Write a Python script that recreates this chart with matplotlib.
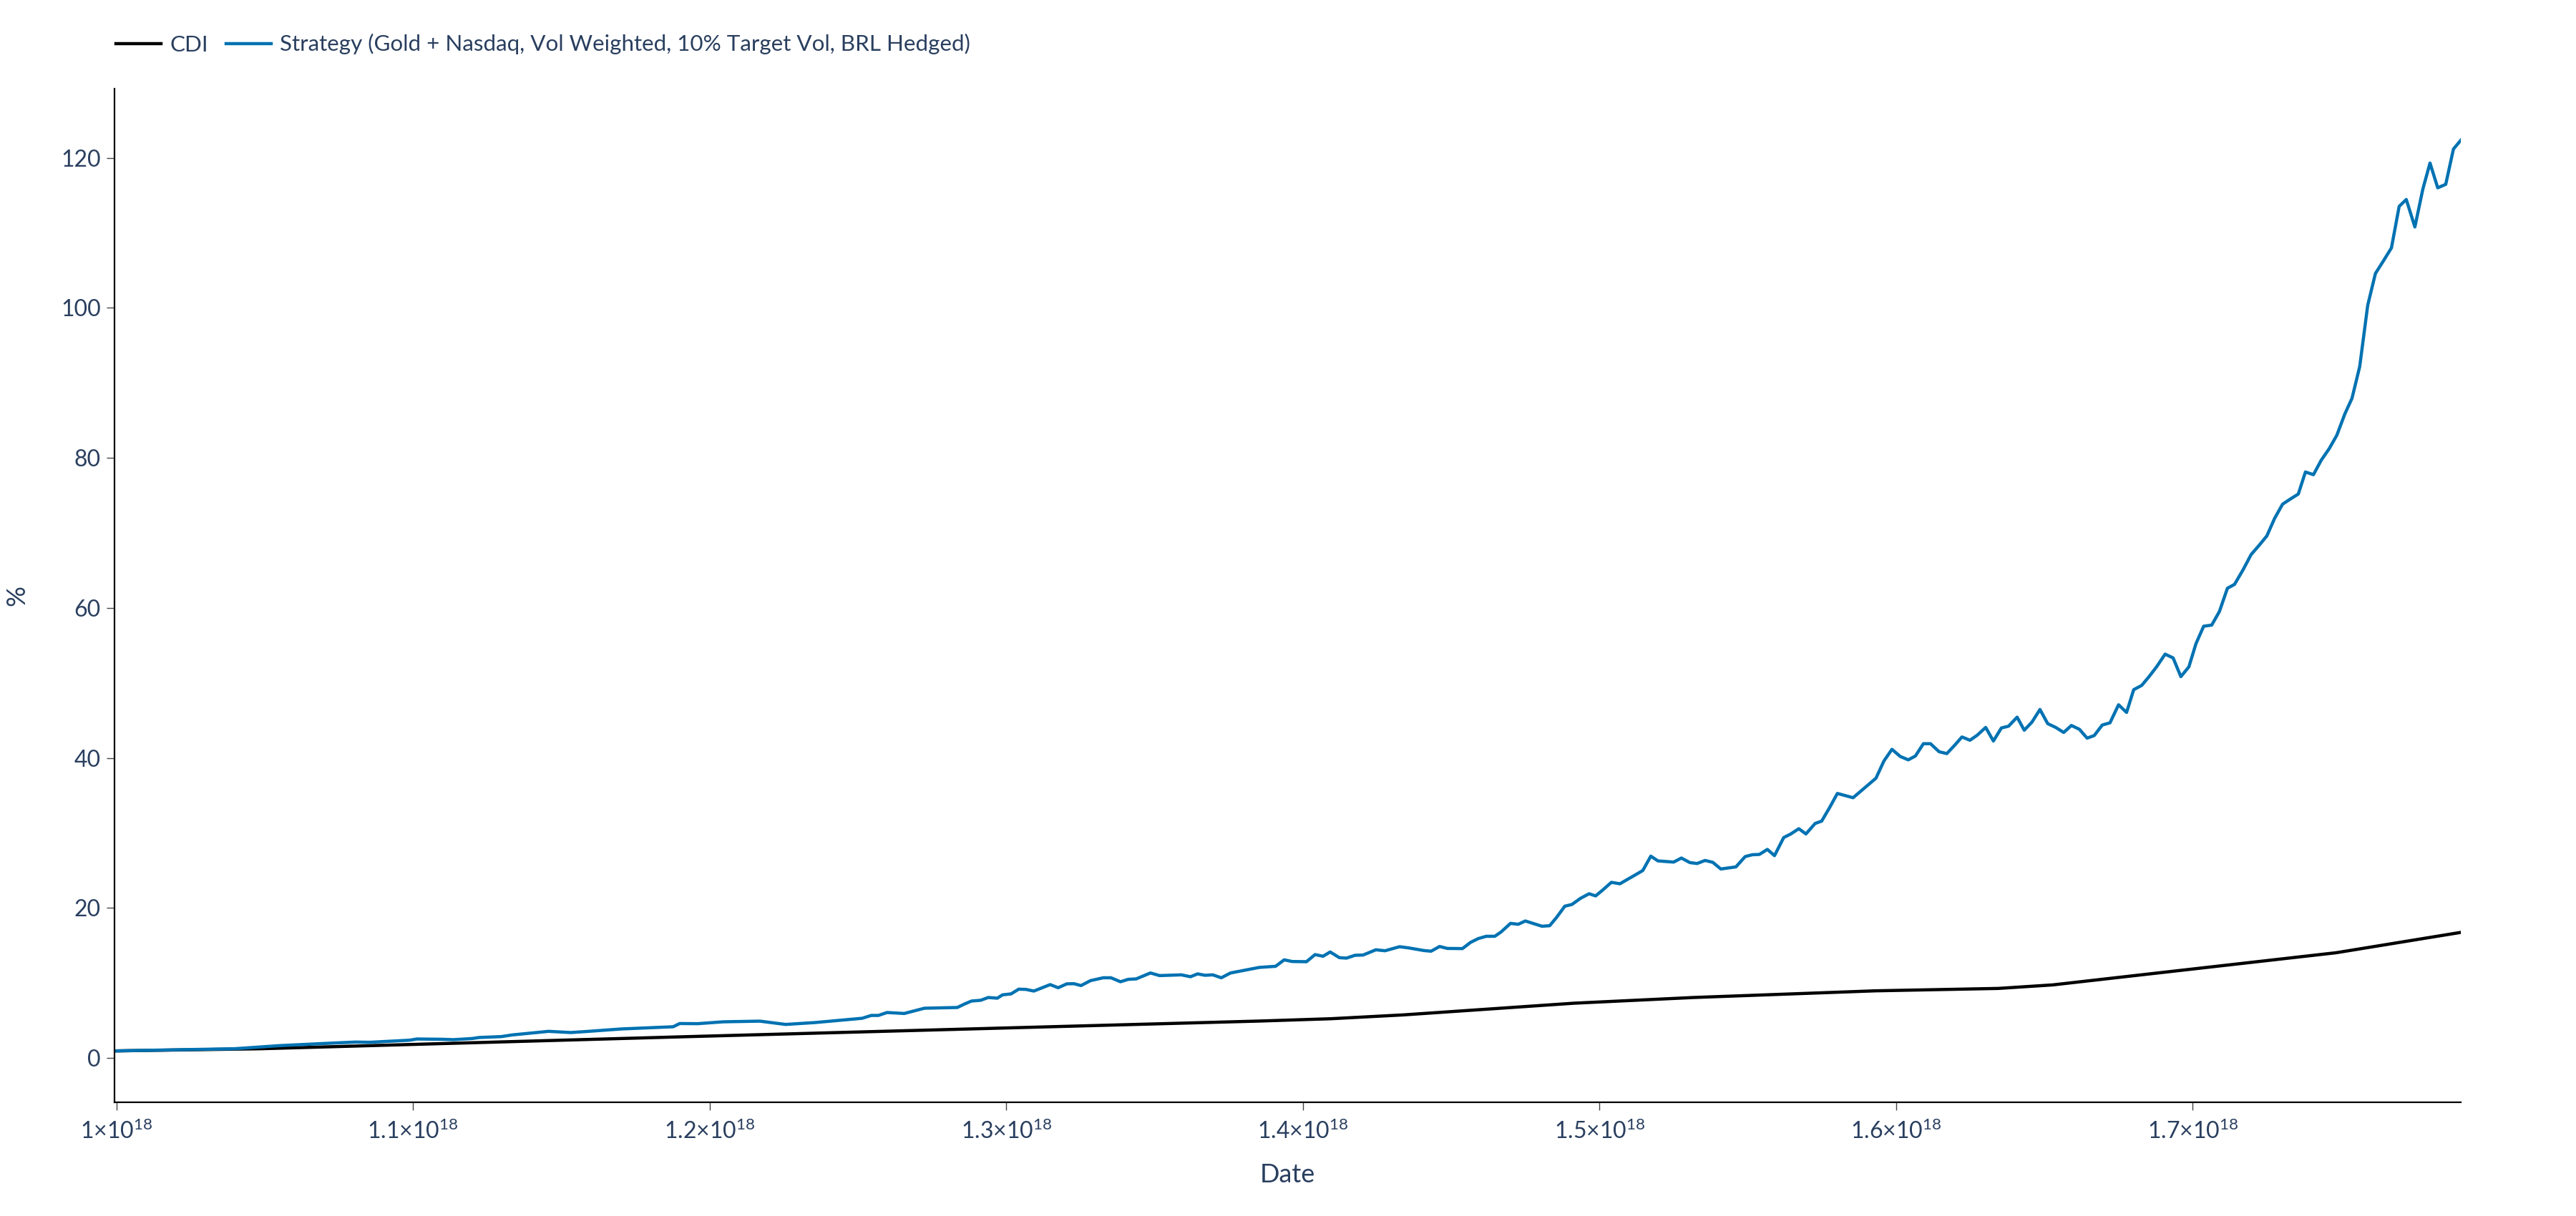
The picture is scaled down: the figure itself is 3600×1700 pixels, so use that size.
import numpy as np
import matplotlib
matplotlib.use("Agg")
import matplotlib.pyplot as plt
from matplotlib.ticker import MultipleLocator, FuncFormatter

# x values are dates as epoch nanoseconds, written here in units of 1e18
cdi_dates = [0.9993, 1.0485, 1.1923, 1.3853, 1.4094, 1.4338, 1.4914, 1.5317,
             1.5930, 1.6345, 1.6528, 1.7484, 1.7904]
cdi_values = [0.95, 1.24, 2.85, 4.93, 5.24, 5.75, 7.31, 8.07,
              8.96, 9.28, 9.75, 14.04, 16.75]

strategy_dates = [
    0.9993, 1.0398, 1.0548, 1.0731, 1.0806, 1.0854, 1.0989, 1.1013, 1.1100, 1.1136,
    1.1199, 1.1223, 1.1298, 1.1334, 1.1457, 1.1532, 1.1592, 1.1703, 1.1877, 1.1899,
    1.1959, 1.2046, 1.2169, 1.2256, 1.2355, 1.2514, 1.2545, 1.2569, 1.2598, 1.2656,
    1.2724, 1.2835, 1.2859, 1.2883, 1.2914, 1.2939, 1.2970, 1.2987, 1.3016, 1.3042,
    1.3066, 1.3093, 1.3148, 1.3175, 1.3204, 1.3228, 1.3252, 1.3284, 1.3327, 1.3353,
    1.3385, 1.3411, 1.3438, 1.3486, 1.3517, 1.3590, 1.3621, 1.3645, 1.3670, 1.3696,
    1.3725, 1.3756, 1.3853, 1.3908, 1.3937, 1.3964, 1.4012, 1.4041, 1.4068, 1.4092,
    1.4123, 1.4147, 1.4176, 1.4203, 1.4246, 1.4277, 1.4326, 1.4357, 1.4408, 1.4432,
    1.4461, 1.4487, 1.4538, 1.4565, 1.4591, 1.4618, 1.4647, 1.4668, 1.4700, 1.4726,
    1.4750, 1.4806, 1.4832, 1.4856, 1.4883, 1.4907, 1.4936, 1.4965, 1.4987, 1.5013,
    1.5040, 1.5069, 1.5095, 1.5119, 1.5146, 1.5173, 1.5197, 1.5250, 1.5276, 1.5305,
    1.5329, 1.5356, 1.5382, 1.5409, 1.5460, 1.5491, 1.5515, 1.5539, 1.5566, 1.5590,
    1.5621, 1.5645, 1.5672, 1.5696, 1.5727, 1.5749, 1.5776, 1.5802, 1.5855, 1.5932,
    1.5959, 1.5986, 1.6014, 1.6041, 1.6065, 1.6092, 1.6116, 1.6145, 1.6171, 1.6198,
    1.6222, 1.6249, 1.6273, 1.6302, 1.6328, 1.6355, 1.6379, 1.6408, 1.6432, 1.6458,
    1.6485, 1.6511, 1.6538, 1.6565, 1.6591, 1.6618, 1.6644, 1.6668, 1.6695, 1.6721,
    1.6750, 1.6777, 1.6801, 1.6828, 1.6852, 1.6878, 1.6907, 1.6934, 1.6960, 1.6987,
    1.7011, 1.7037, 1.7064, 1.7090, 1.7117, 1.7141, 1.7170, 1.7197, 1.7223, 1.7250,
    1.7276, 1.7303, 1.7329, 1.7356, 1.7380, 1.7407, 1.7433, 1.7460, 1.7486, 1.7513,
    1.7537, 1.7563, 1.7590, 1.7616, 1.7645, 1.7670, 1.7696, 1.7720, 1.7749, 1.7776,
    1.7800, 1.7826, 1.7853, 1.7879, 1.7904,
]
strategy_values = [
    0.95, 1.24, 1.65, 2.00, 2.13, 2.10, 2.38, 2.54, 2.50, 2.45,
    2.60, 2.74, 2.86, 3.08, 3.56, 3.40, 3.56, 3.88, 4.17, 4.60,
    4.58, 4.83, 4.92, 4.48, 4.73, 5.30, 5.68, 5.68, 6.07, 5.94,
    6.64, 6.74, 7.20, 7.60, 7.70, 8.07, 7.98, 8.42, 8.55, 9.18,
    9.15, 8.93, 9.79, 9.37, 9.89, 9.91, 9.66, 10.32, 10.70, 10.70,
    10.17, 10.49, 10.55, 11.34, 10.99, 11.09, 10.84, 11.22, 11.03, 11.09,
    10.70, 11.34, 12.08, 12.23, 13.09, 12.87, 12.84, 13.79, 13.57, 14.14,
    13.38, 13.32, 13.70, 13.73, 14.43, 14.30, 14.84, 14.68, 14.33, 14.24,
    14.87, 14.61, 14.59, 15.41, 15.92, 16.23, 16.23, 16.80, 17.95, 17.83,
    18.27, 17.57, 17.64, 18.78, 20.24, 20.47, 21.29, 21.90, 21.61, 22.47,
    23.42, 23.23, 23.83, 24.37, 25.00, 26.91, 26.28, 26.12, 26.66, 26.05,
    25.93, 26.34, 26.09, 25.20, 25.48, 26.85, 27.10, 27.14, 27.81, 26.98,
    29.39, 29.87, 30.57, 29.87, 31.27, 31.58, 33.40, 35.27, 34.70, 37.30,
    39.60, 41.15, 40.20, 39.75, 40.26, 41.90, 41.90, 40.83, 40.58, 41.72,
    42.80, 42.36, 43.02, 44.07, 42.26, 44.00, 44.23, 45.44, 43.70, 44.78,
    46.46, 44.58, 44.07, 43.40, 44.33, 43.82, 42.64, 42.99, 44.39, 44.68,
    47.09, 46.07, 49.10, 49.67, 50.80, 52.14, 53.84, 53.33, 50.84, 52.14,
    55.24, 57.56, 57.71, 59.52, 62.62, 63.14, 65.10, 67.12, 68.30, 69.60,
    71.93, 73.83, 74.51, 75.18, 78.12, 77.76, 79.67, 81.22, 83.03, 85.87,
    87.94, 92.17, 100.34, 104.58, 106.39, 107.99, 113.52, 114.44, 110.78, 115.85,
    119.30, 116.00, 116.46, 121.16, 122.35,
]

series_names = ["CDI", "Strategy (Gold + Nasdaq, Vol Weighted, 10% Target Vol, BRL Hedged)"]

TEXT = "#2a3f5f"
plt.rcParams["font.family"] = ["Lato", "DejaVu Sans"]
plt.rcParams["mathtext.fontset"] = "custom"
plt.rcParams["mathtext.rm"] = "Lato"
plt.rcParams["mathtext.it"] = "Lato:italic"
plt.rcParams["mathtext.bf"] = "Lato:bold"

fig = plt.figure(figsize=(18, 8.5), dpi=200)
ax = fig.add_axes([0.0444, 0.0935, 0.9109, 0.8335])

cdi_x = np.array(cdi_dates) * 1e18
strat_x = np.array(strategy_dates) * 1e18
ax.plot(cdi_x, cdi_values, color="black", lw=1.6, label=series_names[0])
ax.plot(strat_x, strategy_values, color="#0072B2", lw=1.6, label=series_names[1])

ax.set_xlim(min(strat_x.min(), cdi_x.min()), max(strat_x.max(), cdi_x.max()))
ax.set_ylim(-5.9, 129.2)

ax.xaxis.set_major_locator(MultipleLocator(1e17))
ax.yaxis.set_major_locator(MultipleLocator(20))


def sci_fmt(v, pos):
    m = v / 1e18
    return "%g×10$^{18}$" % round(m, 3)


ax.xaxis.set_major_formatter(FuncFormatter(sci_fmt))

for side in ("top", "right"):
    ax.spines[side].set_visible(False)
for side in ("left", "bottom"):
    ax.spines[side].set_color("black")
    ax.spines[side].set_linewidth(0.8)

ax.tick_params(axis="both", direction="out", length=3.8, width=0.5, color="#444444",
               labelcolor=TEXT, labelsize=11.5)
ax.tick_params(axis="x", pad=5)
ax.tick_params(axis="y", pad=3)

ax.set_xlabel("Date", color=TEXT, fontsize=13, labelpad=10)
ax.set_ylabel("%", color=TEXT, fontsize=13, labelpad=16)

fig.legend(loc="lower left", bbox_to_anchor=(0.045, 0.955), ncol=2, frameon=False,
           fontsize=11.3, labelcolor=TEXT, handlelength=2.0, handletextpad=0.4,
           columnspacing=0.8, borderaxespad=0, borderpad=0)

fig.savefig("out.png", dpi=200, facecolor="white")
